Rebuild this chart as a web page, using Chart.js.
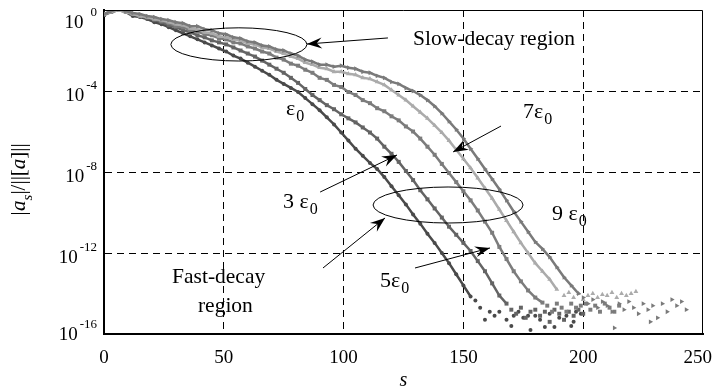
<!DOCTYPE html>
<html>
<head>
<meta charset="utf-8">
<script src="https://cdn.jsdelivr.net/npm/chart.js@4.4.1/dist/chart.umd.min.js"></script>
<style>
  html, body { margin: 0; padding: 0; background: #fff; }
  canvas { display: block; }
</style>
</head>
<body>
<canvas id="chart" width="714" height="391"></canvas>
<script>
// s grid used by the decaying part of every curve (step 3)
const sGrid = [0,3,6,9,12,15,18,21,24,27,30,33,36,39,42,45,48,51,54,57,60,63,66,69,72,75,78,81,84,87,90,93,96,99,
  102,105,108,111,114,117,120,123,126,129,132,135,138,141,144,147,150,153,156,159,162,165,168,171,174,177,180,183,186,189,192,195,198];

// log10(|a_s| / ||[a]||)
const logE0 = [-0.2,-0.1,0,-0.1,-0.3,-0.35,-0.45,-0.6,-0.7,-0.85,-1.0,-1.15,-1.3,-1.45,-1.6,-1.75,-1.9,-2.05,-2.25,-2.4,
  -2.6,-2.8,-3.0,-3.2,-3.45,-3.65,-3.85,-4.05,-4.35,-4.65,-4.95,-5.3,-5.65,-6.05,-6.45,-6.85,-7.2,-7.55,-7.85,-8.25,
  -8.7,-9.15,-9.6,-10.1,-10.55,-11.05,-11.5,-12.0,-12.5,-13.05,-13.6,-14.15];
const logE3 = [-0.25,-0.1,0,-0.05,-0.2,-0.3,-0.4,-0.5,-0.6,-0.75,-0.85,-1.0,-1.1,-1.25,-1.35,-1.5,-1.6,-1.7,-1.85,-2.0,
  -2.15,-2.3,-2.5,-2.7,-2.9,-3.1,-3.35,-3.6,-3.9,-4.2,-4.45,-4.7,-4.9,-5.15,-5.35,-5.55,-5.8,-6.05,-6.35,-6.75,
  -7.1,-7.5,-7.95,-8.4,-8.9,-9.35,-9.8,-10.25,-10.7,-11.1,-11.5,-11.9,-12.4,-12.9,-13.5,-14.1,-14.5];
const logE5 = [-0.2,-0.05,0,-0.05,-0.2,-0.3,-0.35,-0.45,-0.55,-0.65,-0.8,-0.85,-1.0,-1.05,-1.2,-1.25,-1.4,-1.45,-1.6,-1.65,
  -1.8,-1.9,-2.05,-2.15,-2.35,-2.45,-2.65,-2.75,-2.95,-3.1,-3.35,-3.45,-3.7,-3.8,-4.05,-4.2,-4.45,-4.6,-4.85,-5.0,
  -5.25,-5.45,-5.75,-6.0,-6.35,-6.75,-7.15,-7.6,-8.05,-8.5,-8.95,-9.4,-9.9,-10.45,-11.0,-11.7,-12.3,-12.9,-13.4,-13.85,
  -14.2,-14.45];
const logE7 = [-0.2,-0.1,0,-0.1,-0.2,-0.3,-0.35,-0.45,-0.5,-0.6,-0.7,-0.75,-0.9,-0.95,-1.1,-1.15,-1.3,-1.35,-1.45,-1.5,
  -1.65,-1.7,-1.85,-1.9,-2.05,-2.15,-2.3,-2.4,-2.6,-2.7,-2.85,-2.9,-3.05,-3.05,-3.15,-3.2,-3.35,-3.4,-3.55,-3.7,
  -3.95,-4.2,-4.45,-4.75,-5.05,-5.35,-5.7,-6.05,-6.45,-6.9,-7.35,-7.8,-8.3,-8.8,-9.3,-9.85,-10.4,-10.95,-11.5,-12.0,
  -12.5,-12.9,-13.3,-13.8];
const logE9 = [-0.2,-0.05,0.05,-0.05,-0.15,-0.2,-0.3,-0.35,-0.45,-0.5,-0.6,-0.65,-0.8,-0.8,-0.95,-1.0,-1.15,-1.2,-1.35,-1.4,
  -1.55,-1.6,-1.75,-1.8,-1.95,-2.0,-2.15,-2.25,-2.45,-2.55,-2.7,-2.7,-2.8,-2.75,-2.85,-2.9,-3.05,-3.1,-3.25,-3.35,
  -3.55,-3.65,-3.85,-4.0,-4.2,-4.45,-4.75,-5.1,-5.5,-5.9,-6.35,-6.85,-7.35,-7.85,-8.35,-8.85,-9.4,-9.95,-10.45,-10.95,
  -11.45,-11.8,-12.2,-12.7,-13.2,-13.6,-14.0];

// round-off floor (scattered points)
const floorE0S = [155,157,159,161,163,165,168,170,171,173,175,177,178,180,182,184,186,188,190,193,195,196,197,199];
const floorE0 = [-14.35,-14.7,-15.3,-14.9,-15.1,-14.9,-15.3,-15.6,-15.1,-14.9,-15.2,-15.1,-15.8,-15.1,-15.3,-15.65,-15.0,-15.65,-15.2,-15.1,-15.6,-15.4,-14.9,-15.0];
const floorE3S = [170,172,174,176,178,180,182,184,186,188,190,192,194,196,198,200];
const floorE3 = [-14.8,-15.0,-14.7,-15.2,-14.9,-14.8,-15.1,-14.9,-15.4,-14.8,-15.0,-15.3,-14.9,-15.1,-14.8,-15.0];
const floorE5S = [185,187,189,191,193,195,197,199,201,203,205,207,209,211,213,215];
const floorE5 = [-14.6,-14.9,-14.5,-14.7,-14.9,-14.5,-14.7,-14.6,-14.5,-14.8,-14.6,-14.9,-14.5,-14.7,-14.9,-14.6];
const floorE7S = [192,194,196,198,200,202,204,206,208,210,212,214,216,218,220,222];
const floorE7 = [-14.1,-13.95,-14.2,-14.0,-14.3,-14.1,-14.0,-14.2,-14.05,-14.1,-13.95,-14.2,-14.0,-14.1,-14.0,-13.9];
const floorE9S = [200,202,204,206,208,210,212,213,215,217,219,221,223,225,227,228,229,231,233,235,237,239,241,243];
const floorE9 = [-14.2,-14.5,-14.3,-14.7,-14.4,-14.6,-14.9,-15.7,-14.5,-14.8,-14.4,-14.7,-15.0,-14.5,-14.8,-15.4,-14.6,-15.2,-14.5,-14.9,-14.3,-14.6,-14.4,-14.8];

const seriesNames = ['ε0', '3ε0', '5ε0', '7ε0', '9ε0'];
const xTickVals = [0, 50, 100, 150, 200, 250];
const yTickVals = [1, 1e-4, 1e-8, 1e-12, 1e-16];
const yTickExp = ['0', '-4', '-8', '-12', '-16'];

const SERIF = '"Liberation Serif", "Times New Roman", serif';

function pts(sArr, logArr) {
  return logArr.map((v, i) => ({ x: sArr[i], y: Math.pow(10, v) }));
}

function makeSet(label, data, color, style, rot, line) {
  return {
    label, data,
    showLine: line,
    borderColor: color,
    backgroundColor: color,
    borderWidth: 2.5,
    pointRadius: style === 'circle' ? 2 : 2.8,
    pointStyle: style,
    pointRotation: rot,
    pointBorderWidth: 0,
    tension: 0
  };
}

const colors = ['#4a4a4a', '#646464', '#7c7c7c', '#ababab', '#7a7a7a'];
const styles = ['circle', 'rect', 'rect', 'triangle', 'triangle'];
const rots = [0, 0, 0, 0, 90];
const curves = [logE0, logE3, logE5, logE7, logE9];
const floorsS = [floorE0S, floorE3S, floorE5S, floorE7S, floorE9S];
const floors = [floorE0, floorE3, floorE5, floorE7, floorE9];

const datasets = [];
for (let k = 4; k >= 0; k--) {
  datasets.push(makeSet(seriesNames[k], pts(sGrid, curves[k]), colors[k], styles[k], rots[k], true));
  datasets.push(makeSet(seriesNames[k] + ' floor', pts(floorsS[k], floors[k]), colors[k], styles[k], rots[k], false));
}

// annotations in data units: s, log10 value
const ellipses = [
  { s: 56.3, lg: -1.70, rs: 28.4, rlg: 0.82 },
  { s: 143.6, lg: -9.63, rs: 31.3, rlg: 0.89 }
];
const arrows = [
  { s1: 118.5, lg1: -1.38, s2: 84.7, lg2: -1.68 },
  { s1: 91.4, lg1: -12.74, s2: 117.3, lg2: -10.27 },
  { s1: 165.7, lg1: -5.73, s2: 145.7, lg2: -7.01 },
  { s1: 90.2, lg1: -8.99, s2: 122.3, lg2: -7.16 },
  { s1: 129.8, lg1: -12.74, s2: 161.1, lg2: -11.75 }
];
const texts = [
  { t: 'Slow-decay region', s: 129.0, lg: -1.73 },
  { t: 'Fast-decay', s: 28.4, lg: -13.48 },
  { t: 'region', s: 39.2, lg: -14.91 }
];
const epsLabels = [
  { pre: '', s: 76.0, lg: -5.19 },
  { pre: '3 ', s: 74.7, lg: -9.78 },
  { pre: '5', s: 115.2, lg: -13.68 },
  { pre: '7', s: 174.9, lg: -5.33 },
  { pre: '9 ', s: 187.0, lg: -10.37 }
];

function drawArrow(ctx, x1, y1, x2, y2) {
  ctx.beginPath(); ctx.moveTo(x1, y1); ctx.lineTo(x2, y2); ctx.stroke();
  const a = Math.atan2(y2 - y1, x2 - x1), L = 15, W = 5.5;
  const c = Math.cos(a), sn = Math.sin(a);
  ctx.beginPath();
  ctx.moveTo(x2, y2);
  ctx.lineTo(x2 - L * c + W * sn, y2 - L * sn - W * c);
  ctx.lineTo(x2 - 0.65 * L * c, y2 - 0.65 * L * sn);
  ctx.lineTo(x2 - L * c - W * sn, y2 - L * sn + W * c);
  ctx.closePath(); ctx.fill();
}

const decorations = {
  id: 'decorations',
  afterDraw(chart) {
    const { ctx, chartArea: ca, scales: { x, y } } = chart;
    const px = s => x.getPixelForValue(s);
    const py = lg => y.getPixelForValue(Math.pow(10, lg));
    ctx.save();
    // thin top/right frame
    ctx.strokeStyle = '#000'; ctx.lineWidth = 1;
    ctx.beginPath();
    ctx.moveTo(ca.left, ca.top + 0.5); ctx.lineTo(ca.right - 0.5, ca.top + 0.5); ctx.lineTo(ca.right - 0.5, ca.bottom);
    ctx.stroke();

    // tick labels
    ctx.fillStyle = '#000';
    ctx.textBaseline = 'alphabetic';
    ctx.textAlign = 'center';
    ctx.font = '19px ' + SERIF;
    xTickVals.forEach(v => {
      const w = ctx.measureText(String(v)).width;
      ctx.fillText(String(v), Math.min(px(v), chart.width - w / 2 - 2), ca.bottom + 29);
    });
    yTickVals.forEach((v, i) => {
      const gy = y.getPixelForValue(v);
      const shift = i === 0 ? 8 : (i === yTickVals.length - 1 ? -4 : 0);
      ctx.textAlign = 'right';
      ctx.font = '13px ' + SERIF;
      const ew = ctx.measureText(yTickExp[i]).width;
      ctx.fillText(yTickExp[i], ca.left - 7, gy - 2 + shift);
      ctx.font = '19px ' + SERIF;
      ctx.fillText('10', ca.left - 7 - ew - (yTickExp[i] === '0' ? 7 : 2), gy + 10 + shift);
    });

    // axis titles
    ctx.textAlign = 'center';
    ctx.font = 'italic 20px ' + SERIF;
    ctx.fillText('s', (ca.left + ca.right) / 2, ca.bottom + 52);

    ctx.save();
    ctx.translate(18, 180);
    ctx.rotate(-Math.PI / 2);
    const parts = [
      { t: '|a', f: 'italic 21px ', dy: 0 },
      { t: 's', f: 'italic 15px ', dy: 7 },
      { t: '|/||[', f: '21px ', dy: 0 },
      { t: 'a', f: 'italic 21px ', dy: 0 },
      { t: ']||', f: '21px ', dy: 0 }
    ];
    let total = 0;
    parts.forEach(p => { ctx.font = p.f + SERIF; p.w = ctx.measureText(p.t).width; total += p.w; });
    let cx = -total / 2;
    ctx.textAlign = 'left';
    parts.forEach(p => { ctx.font = p.f + SERIF; ctx.fillText(p.t, cx, 7 + p.dy); cx += p.w; });
    ctx.restore();

    // ellipses and arrows
    ctx.lineWidth = 1;
    ellipses.forEach(e => {
      const cxp = px(e.s), cyp = py(e.lg);
      const rx = px(e.s + e.rs) - cxp, ry = py(e.lg - e.rlg) - cyp;
      ctx.beginPath(); ctx.ellipse(cxp, cyp, rx, ry, 0, 0, Math.PI * 2); ctx.stroke();
    });
    arrows.forEach(a => drawArrow(ctx, px(a.s1), py(a.lg1), px(a.s2), py(a.lg2)));

    ctx.textAlign = 'left';
    ctx.font = '21.5px ' + SERIF;
    texts.forEach(t => ctx.fillText(t.t, px(t.s), py(t.lg)));
    epsLabels.forEach(l => {
      const bx = px(l.s), by = py(l.lg);
      ctx.font = '22px ' + SERIF;
      const w = ctx.measureText(l.pre + 'ε').width;
      ctx.fillText(l.pre + 'ε', bx, by);
      ctx.font = '16px ' + SERIF;
      ctx.fillText('0', bx + w + 1, by + 6);
    });
    ctx.restore();
  }
};

const edgeless = vals => c => {
  const v = c.tick ? c.tick.value : null;
  return (v === vals[0] || v === vals[vals.length - 1]) ? 'rgba(0,0,0,0)' : '#000';
};

new Chart(document.getElementById('chart').getContext('2d'), {
  type: 'scatter',
  data: { datasets },
  options: {
    responsive: false,
    animation: false,
    devicePixelRatio: 1,
    layout: { padding: { left: 104, right: 11, top: 10, bottom: 57 } },
    plugins: { legend: { display: false }, tooltip: { enabled: false } },
    scales: {
      x: {
        type: 'linear', min: 0, max: 250,
        afterBuildTicks: s => { s.ticks = xTickVals.map(v => ({ value: v })); },
        ticks: { display: false },
        grid: { color: edgeless(xTickVals), lineWidth: 1, drawTicks: false },
        border: { display: true, width: 2, color: '#000', dash: [7, 5] }
      },
      y: {
        type: 'logarithmic', min: 1e-16, max: 1,
        afterBuildTicks: s => { s.ticks = yTickVals.map(v => ({ value: v })); },
        ticks: { display: false },
        grid: { color: edgeless(yTickVals), lineWidth: 1, drawTicks: false },
        border: { display: true, width: 2, color: '#000', dash: [7, 5] }
      }
    }
  },
  plugins: [decorations]
});
</script>
</body>
</html>
